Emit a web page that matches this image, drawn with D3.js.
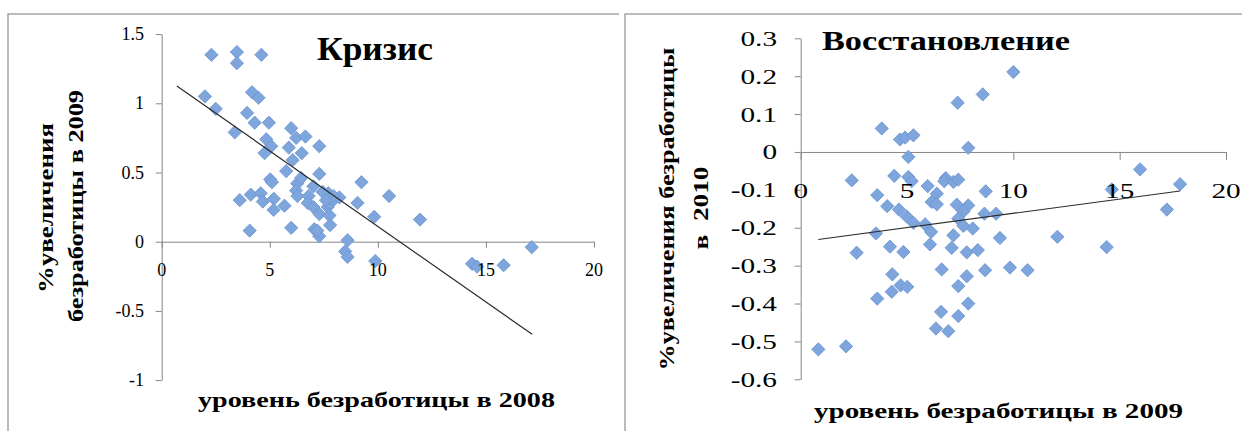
<!DOCTYPE html>
<html><head><meta charset="utf-8">
<script src="https://cdn.jsdelivr.net/npm/d3@7/dist/d3.min.js"></script>
<style>
html,body{margin:0;padding:0;background:#fff;}
svg{display:block;}
</style></head>
<body>
<svg id="c" width="1242" height="431" font-family="'Liberation Serif', 'Times New Roman', Times, serif"></svg>
<script>
// ---- data ----
const crisisPoints = [
 [2.30,1.35],[3.48,1.37],[3.48,1.29],[4.61,1.35],
 [2.00,1.05],[2.50,0.96],[4.18,1.08],[4.48,1.04],[3.95,0.93],[4.30,0.86],[4.96,0.86],[3.38,0.79],
 [5.99,0.82],[6.22,0.75],[6.65,0.76],[4.84,0.74],[5.07,0.69],[4.76,0.64],[5.88,0.68],[6.48,0.64],[7.29,0.69],
 [6.06,0.59],[5.76,0.51],[7.29,0.49],[5.02,0.45],[5.10,0.43],[6.27,0.42],[6.45,0.46],[6.22,0.37],[6.28,0.33],[7.02,0.40],
 [3.61,0.30],[4.12,0.34],[4.58,0.35],[4.68,0.29],[5.19,0.31],[5.18,0.23],[5.68,0.26],[6.80,0.33],[6.76,0.28],[7.02,0.25],[7.29,0.20],
 [7.71,0.35],[7.88,0.29],[7.68,0.25],[8.22,0.32],[7.76,0.19],[7.79,0.12],[7.45,0.36],[7.95,0.33],[7.60,0.30],
 [9.06,0.28],[9.24,0.43],[9.83,0.18],[10.52,0.33],[11.95,0.16],
 [4.07,0.08],[5.99,0.10],[7.06,0.09],[7.29,0.04],[7.20,0.08],
 [8.60,0.01],[8.49,-0.07],[8.60,-0.11],[9.88,-0.14],
 [14.36,-0.16],[14.59,-0.18],[15.82,-0.17],[17.12,-0.04]
];
const crisisTrend = [[0.70,1.125],[17.14,-0.669]];
const crisisXTicks = [0,5,10,15,20];
const crisisYTicks = [1.5,1,0.5,0,-0.5,-1];

const recoveryPoints = [
 [10.0,0.211],[8.56,0.152],[7.38,0.130],[3.81,0.062],[4.67,0.033],[4.91,0.038],[5.30,0.044],[7.88,0.011],[5.06,-0.013],
 [2.40,-0.075],[4.40,-0.063],[5.06,-0.066],[5.22,-0.077],[6.82,-0.069],[6.75,-0.077],[7.18,-0.079],[7.41,-0.073],
 [3.60,-0.114],[5.97,-0.090],[6.40,-0.110],[6.16,-0.132],[6.40,-0.138],[8.70,-0.104],
 [4.07,-0.143],[4.62,-0.152],[4.98,-0.170],[5.30,-0.187],[5.85,-0.191],[6.13,-0.211],
 [7.34,-0.139],[7.88,-0.141],[7.65,-0.157],[7.41,-0.176],[7.65,-0.195],[8.09,-0.202],[8.64,-0.163],[9.19,-0.163],
 [3.54,-0.215],[7.18,-0.220],[2.63,-0.266],[4.20,-0.250],[4.83,-0.264],[6.08,-0.244],[7.10,-0.253],[7.81,-0.265],[8.33,-0.259],[9.37,-0.227],
 [6.63,-0.310],[8.67,-0.312],[9.84,-0.305],[10.67,-0.312],[7.81,-0.328],[4.31,-0.323],
 [4.28,-0.369],[4.70,-0.352],[5.01,-0.356],[7.41,-0.354],[3.60,-0.387],[7.88,-0.400],[6.60,-0.422],[7.41,-0.433],[6.36,-0.466],[6.94,-0.473],
 [0.83,-0.521],[2.13,-0.513],
 [15.96,-0.046],[17.84,-0.085],[14.63,-0.099],[17.22,-0.152],[12.07,-0.224],[14.39,-0.251]
];
const recoveryTrend = [[0.83,-0.231],[17.84,-0.103]];
const recoveryXTicks = [0,5,10,15,20];
const recoveryYTicks = [0.3,0.2,0.1,0,-0.1,-0.2,-0.3,-0.4,-0.5,-0.6];

const texts = {
  t1:"Кризис", t2:"Восстановление",
  y1a:"%увеличения", y1b:"безработицы в 2009",
  y2a:"%увеличения безработицы", y2b:"в  2010",
  x1:"уровень безработицы в 2008", x2:"уровень безработицы в 2009"
};

// ---- drawing ----
const FONT = "'Liberation Serif', 'Times New Roman', Times, serif";
const svg = d3.select("#c");
const AX = "#868686";
const FILL = "#7EA6DC", STROKE = "#6A95D2";

// frames
svg.append("path").attr("d","M8,440V14H619").attr("fill","none").attr("stroke","#a6a6a6").attr("stroke-width",1.5);
svg.append("path").attr("d","M625,440V14H1250").attr("fill","none").attr("stroke","#a6a6a6").attr("stroke-width",1.5);

function fmt(v){ return String(v); }

function panel(cfg){
  const g = svg.append("g");
  const x = d3.scaleLinear().domain([0,20]).range(cfg.xr);
  const y = d3.scaleLinear().domain(cfg.yd).range(cfg.yr);
  const ya = g.append("g").attr("transform",`translate(${x(0)},0)`)
    .call(d3.axisLeft(y).tickValues(cfg.yTicks).tickSize(6).tickSizeOuter(0).tickFormat(()=>""));
  ya.select(".domain").attr("stroke",AX);
  ya.selectAll(".tick line").attr("stroke",AX);
  const xa = g.append("g").attr("transform",`translate(0,${y(0)})`)
    .call(d3.axisBottom(x).tickValues(cfg.xTicks).tickSize(cfg.xTickLen).tickSizeOuter(0).tickFormat(()=>""));
  xa.select(".domain").attr("stroke",AX);
  xa.selectAll(".tick line").attr("stroke",AX);
  g.selectAll(".yl").data(cfg.yTicks).join("text")
    .attr("font-family",FONT)
    .attr("transform",d=>`translate(${cfg.yLabelRight},${y(d)+cfg.fs*0.34}) scale(${cfg.sx},1)`)
    .attr("text-anchor","end").attr("font-size",cfg.fs).attr("fill","#000").text(fmt);
  const sym = d3.symbol(d3.symbolSquare, 88);
  g.selectAll(".pt").data(cfg.points).join("path")
    .attr("d",sym)
    .attr("transform",d=>`translate(${x(d[0])},${y(d[1])}) rotate(45)`)
    .attr("fill",FILL).attr("stroke",STROKE).attr("stroke-width",0.8);
  g.append("line")
    .attr("x1",x(cfg.trend[0][0])).attr("y1",y(cfg.trend[0][1]))
    .attr("x2",x(cfg.trend[1][0])).attr("y2",y(cfg.trend[1][1]))
    .attr("stroke","#2b2b2b").attr("stroke-width",1.2);
  g.selectAll(".xl").data(cfg.xTicks).join("text")
    .attr("font-family",FONT)
    .attr("transform",d=>`translate(${x(d)},${cfg.xLabelBase}) scale(${cfg.sx},1)`)
    .attr("text-anchor","middle").attr("font-size",cfg.fs).attr("fill","#000").text(fmt);
  return g;
}

panel({xr:[161.7,594], yd:[-1,1.5], yr:[380.1,34.1], yTicks:crisisYTicks, xTicks:crisisXTicks,
  xTickLen:6, points:crisisPoints, trend:crisisTrend, fs:18, sx:1.0, yLabelRight:144, xLabelBase:276});
panel({xr:[800.7,1226], yd:[-0.6,0.3], yr:[379.3,38.3], yTicks:recoveryYTicks, xTicks:recoveryXTicks,
  xTickLen:8, points:recoveryPoints, trend:recoveryTrend, fs:22, sx:1.33, yLabelRight:777, xLabelBase:198});

function label(txt, x, y, size, len, rot){
  return svg.append("text")
    .attr("font-family",FONT)
    .attr("transform",`translate(${x},${y})${rot?" rotate(-90)":""}`)
    .attr("text-anchor","middle").attr("font-weight","bold").attr("font-size",size)
    .attr("textLength",len).attr("lengthAdjust","spacingAndGlyphs")
    .attr("fill","#000")
    .style("white-space","pre").text(txt);
}
label(texts.t1, 375, 60, 33, 116, false);
label(texts.t2, 946, 50, 28, 248, false);
label(texts.x1, 376.5, 407, 22, 357, false);
label(texts.x2, 998.5, 418, 22, 369, false);
label(texts.y1a, 53, 208, 21, 170, true);
label(texts.y1b, 83, 206, 21, 232, true);
label(texts.y2a, 674, 209, 22, 323, true);
label(texts.y2b, 708, 208, 22, 83, true);
</script>
</body></html>
